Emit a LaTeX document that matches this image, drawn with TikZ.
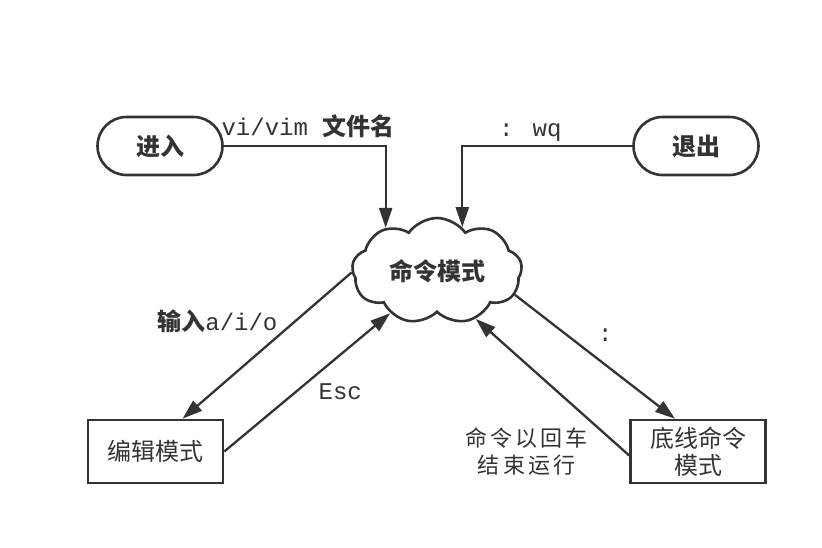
\documentclass[tikz,border=0pt]{standalone}
\usepackage{fontspec}
\usepackage{tikz}
\usetikzlibrary{shapes.symbols,arrows.meta,positioning}
\newfontfamily\cjk{Noto Sans CJK SC}
\newfontfamily\cjkwide{Noto Sans CJK SC}[LetterSpace=14]
\newfontfamily\mono{Liberation Mono}
\definecolor{linegray}{HTML}{333333}
\tikzstyle{state}=[rounded corners=29pt,draw=linegray,line width=2.6pt,minimum width=125pt,minimum height=58pt,text=linegray,font=\cjk\bfseries\fontsize{24}{28}\selectfont]
\tikzstyle{mode}=[rectangle,draw=linegray,line width=2.6pt,minimum width=135pt,minimum height=63pt,inner sep=1pt,align=center,text=linegray,font=\cjk\fontsize{24}{27}\selectfont]
\tikzstyle{link}=[line width=2.3pt,draw=linegray,-{Triangle[length=20pt,width=13pt]}]
\tikzstyle{keytext}=[inner sep=2pt,text=linegray,font=\fontsize{24}{27}\selectfont]

\begin{document}
\begin{tikzpicture}[x=1pt,y=-1pt]
		\useasboundingbox (0,0) rectangle (822,547);

		% modes
		\node[state] (enter) at (160,146) {进入};
		\node[state] (quit) at (696,146) {退出};
		\node[cloud,cloud puffs=9,cloud puff arc=110,cloud ignores aspect,
			minimum width=170pt,minimum height=106pt,draw=linegray,line width=2.6pt,
			text=linegray,font=\cjk\bfseries\fontsize{24}{28}\selectfont] (cmd) at (437,271) {命令模式};
		\node[mode] (edit) at (155.5,451.5) {编辑模式};
		\node[mode] (last) at (698,451.5) {底线命令\\模式};

		% enter / quit
		\draw[link] (enter.east) -| (cmd.140)
			node[keytext,pos=0.26,above,yshift=5pt] {{\mono vi/vim }{\cjk\bfseries 文件名}};
		\draw[link] (quit.west) -| (cmd.60)
			node[keytext,pos=0.3,above,yshift=1pt] {\mono : wq};

		% insert mode
		\draw[link] (cmd.181) -- ([xshift=27pt]edit.north)
			node[keytext,pos=0.42,anchor=south east,yshift=-2pt] {{\cjk\bfseries 输入}{\mono a/i/o}};
		\draw[link] (edit.east) -- (cmd.222)
			node[keytext,pos=0.55,anchor=north west,yshift=-5pt] {\mono Esc};

		% last line mode
		\draw[link] (cmd.343) -- ([xshift=-23pt]last.north)
			node[keytext,pos=0.5,anchor=south west,yshift=12pt] {\mono :};
		\draw[link] ([yshift=-4pt]last.west) -- (cmd.309)
			node[keytext,pos=0.25,anchor=north east,align=center,yshift=-3pt,
				font=\cjkwide\fontsize{22}{27}\selectfont] {命令以回车\\结束运行};
	\end{tikzpicture}
\end{document}
